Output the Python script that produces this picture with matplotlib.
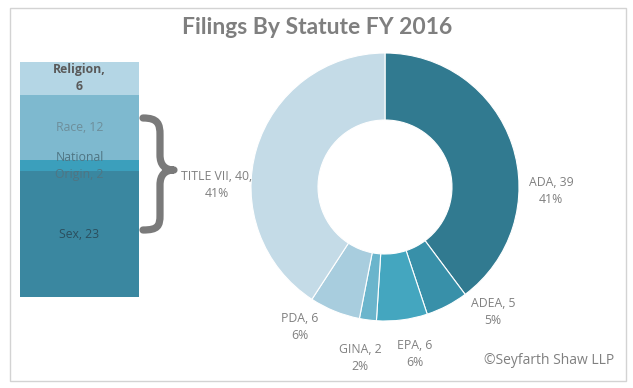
import matplotlib.pyplot as plt
from matplotlib.patches import Rectangle, PathPatch
from matplotlib.path import Path

# donut data, clockwise from 12 o'clock
statutes = ["ADA", "ADEA", "EPA", "GINA", "PDA", "TITLE VII"]
filings = [39, 5, 6, 2, 6, 40]
pct_labels = ["41%", "5%", "6%", "2%", "6%", "41%"]
donut_colors = ["#317A90", "#3890A9", "#44A6BF", "#6BB5CC", "#A8CDDE", "#C4DBE7"]

# title VII breakdown, bottom to top
bases = ["Sex", "National\nOrigin", "Race", "Religion"]
base_counts = [23, 2, 12, 6]
bar_colors = ["#3A87A0", "#3B9FBC", "#7EB9CF", "#B4D6E5"]
bar_text_colors = ["#2B4F5E", "#4F7583", "#6E8E9A", "#5A5A5A"]

W, H = 633, 388
fig = plt.figure(figsize=(W / 100, H / 100), dpi=100)


def px(x, y):
    # pixel position (from top-left) to figure fraction
    return x / W, 1 - y / H


# frame
fig.patches.append(Rectangle(px(10, 381), 616 / W, 373 / H, transform=fig.transFigure,
                             fill=False, edgecolor="#D3D3D3", lw=1))

fig.text(*px(317, 27), "Filings By Statute FY 2016", ha="center", va="center",
         fontsize=16.5, fontweight="bold", color="#7F7F7F", family="Lato")

# donut
cx, cy, side = 385, 187, 280
ax = fig.add_axes([(cx - side / 2) / W, (H - cy - side / 2) / H, side / W, side / H])
ax.pie(filings, colors=donut_colors, startangle=90, counterclock=False,
       radius=134 / 140, wedgeprops=dict(width=67 / 140, edgecolor="white", linewidth=0.8))
ax.set_xlim(-1, 1)
ax.set_ylim(-1, 1)
ax.axis("off")

label_pos = [(551, 191), (493, 312), (415, 354), (360, 358), (300, 327), (217, 185)]
for name, n, p, (x, y) in zip(statutes, filings, pct_labels, label_pos):
    txt = f"{name}, {n}" + ("," if name == "TITLE VII" else "") + f"\n{p}"
    fig.text(*px(x, y), txt, ha="center", va="center", fontsize=8.8,
             color="#808080", family="Open Sans", linespacing=1.4)

# stacked bar
bx = fig.add_axes([20 / W, (H - 297) / H, 119 / W, 235 / H])
bottom = 0
for name, n, c, tc in zip(bases, base_counts, bar_colors, bar_text_colors):
    bx.bar(0.5, n, width=1, bottom=bottom, color=c)
    label = f"{name}, {n}" if name != "Religion" else f"{name},\n{n}"
    bx.text(0.5, bottom + n / 2, label, ha="center", va="center", fontsize=8.8,
            color=tc, family="Open Sans", linespacing=1.4,
            fontweight="bold" if name == "Religion" else "normal")
    bottom += n
bx.set_xlim(0, 1)
bx.set_ylim(0, bottom)
bx.axis("off")

# curly brace
ov = fig.add_axes([0, 0, 1, 1])
ov.set_xlim(0, W)
ov.set_ylim(H, 0)
ov.axis("off")
verts = [(143, 118), (158, 118), (160, 124), (160, 135), (160, 155),
         (160, 165), (165, 170), (174, 170),
         (165, 170), (160, 175), (160, 185), (160, 215),
         (160, 226), (158, 230), (143, 230)]
codes = [Path.MOVETO, Path.CURVE4, Path.CURVE4, Path.CURVE4, Path.LINETO,
         Path.CURVE4, Path.CURVE4, Path.CURVE4,
         Path.CURVE4, Path.CURVE4, Path.CURVE4, Path.LINETO,
         Path.CURVE4, Path.CURVE4, Path.CURVE4]
ov.add_patch(PathPatch(Path(verts, codes), fill=False, edgecolor="#7A7A7A",
                       lw=5.2, capstyle="round", joinstyle="round"))

fig.text(*px(549, 360), "\u00a9Seyfarth Shaw LLP", ha="center", va="center",
         fontsize=10, color="#808080", family="Open Sans")

fig.savefig("out.png", dpi=100)
